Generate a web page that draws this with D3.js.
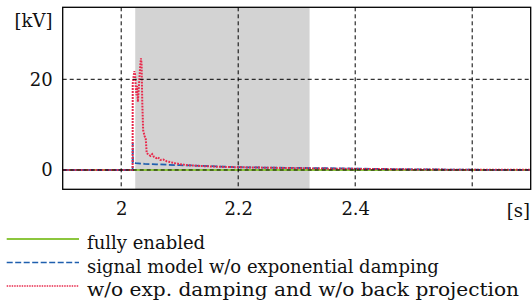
<!DOCTYPE html>
<html>
<head>
<meta charset="utf-8">
<script src="https://cdn.jsdelivr.net/npm/d3@7"></script>
<style>
  body { margin: 0; background: #fff; }
</style>
</head>
<body>
<script>
// data (time in s, voltage in kV)
const greenT = [1.9, 2.7];
const greenV = [0, 0];

const blueT = [1.9, 2.0195, 2.0197, 2.0202, 2.025, 2.04, 2.06, 2.08, 2.1, 2.12, 2.16, 2.2, 2.25, 2.3, 2.38, 2.45, 2.5, 2.6, 2.7];
const blueV = [0, 0, 6.0, 1.6, 1.5, 1.35, 1.25, 1.15, 1.05, 1.0, 0.8, 0.62, 0.52, 0.45, 0.35, 0.22, 0.15, 0.05, 0.02];

const redT = [1.9, 2.0195, 2.0197, 2.021, 2.0225, 2.0238, 2.025, 2.026, 2.0272, 2.0285, 2.0295, 2.031, 2.0325, 2.0338, 2.0348,
  2.036, 2.0375, 2.040, 2.042, 2.0436, 2.047, 2.050, 2.053, 2.056, 2.060, 2.063, 2.067, 2.072, 2.078, 2.085, 2.092,
  2.10, 2.11, 2.12, 2.14, 2.17, 2.2, 2.25, 2.3, 2.35, 2.4, 2.45, 2.5, 2.55, 2.6, 2.7];
const redV = [0, 0, 19, 20.5, 21.8, 21, 18, 16.5, 18.5, 15, 17, 20, 23, 24.6, 23.5,
  15, 8.8, 7.5, 6.8, 3.7, 3.4, 3.1, 3.5, 2.9, 2.6, 2.8, 2.2, 2.3, 1.9, 1.7, 1.5,
  1.3, 1.1, 1.0, 0.85, 0.7, 0.6, 0.5, 0.4, 0.3, 0.25, 0.2, 0.12, 0.08, 0.05, 0.03];

const shade = [2.024, 2.322];
const xTicks = [2, 2.2, 2.4];
const xGrid = [2, 2.2, 2.4, 2.6];
const yTicks = [0, 20];
const legendNames = ["fully enabled", "signal model w/o exponential damping", "w/o exp. damping and w/o back projection"];

const FONT = "DejaVu Serif";

//Margin Convention
const W = 532, H = 306;
const margin = {top: 7.3, right: 1.3, bottom: 116.7, left: 62.7};
const width = W - margin.left - margin.right;
const height = H - margin.top - margin.bottom;

const x = d3.scaleLinear().domain([1.9, 2.7]).range([0, width]);
const y = d3.scaleLinear().domain([-4.26, 35.88]).range([height, 0]);

const svg = d3.select("body").append("svg")
  .attr("width", W)
  .attr("height", H)
  .attr("font-family", FONT);

const g = svg.append("g")
  .attr("transform", "translate(" + margin.left + "," + margin.top + ")");

// shaded window
g.append("rect")
  .attr("x", x(shade[0]))
  .attr("y", 0)
  .attr("width", x(shade[1]) - x(shade[0]))
  .attr("height", height)
  .attr("fill", "#d3d3d3");

const series = [
  {t: greenT, v: greenV, color: "#8cc63e", dash: null, w: 2.2},
  {t: blueT, v: blueV, color: "#1f5fae", dash: "6,2.5", w: 1.8},
  {t: redT, v: redV, color: "#e8294b", dash: "1.8,1.2", w: 2}
];

const line = d3.line()
  .x(d => x(d[0]))
  .y(d => y(d[1]));

series.forEach(function(s) {
  g.append("path")
    .datum(s.t.map((t, i) => [t, s.v[i]]))
    .attr("d", line)
    .attr("fill", "none")
    .attr("stroke", s.color)
    .attr("stroke-width", s.w)
    .attr("stroke-dasharray", s.dash);
});

// grid on top
g.selectAll(".vgrid").data(xGrid).enter().append("line")
  .attr("x1", d => x(d)).attr("x2", d => x(d))
  .attr("y1", 0).attr("y2", height)
  .attr("stroke", "#000").attr("stroke-width", 1)
  .attr("stroke-dasharray", "4,3");

g.selectAll(".hgrid").data(yTicks).enter().append("line")
  .attr("x1", 0).attr("x2", width)
  .attr("y1", d => y(d)).attr("y2", d => y(d))
  .attr("stroke", "#000").attr("stroke-width", 1)
  .attr("stroke-dasharray", "4,3");

// frame
g.append("rect")
  .attr("width", width).attr("height", height)
  .attr("fill", "none").attr("stroke", "#000").attr("stroke-width", 1.3);

// axes
const xAxis = g.append("g")
  .attr("transform", "translate(0," + height + ")")
  .call(d3.axisBottom(x).tickValues(xTicks).tickFormat(d3.format("")).tickSize(0).tickPadding(13));
const yAxis = g.append("g")
  .call(d3.axisLeft(y).tickValues(yTicks).tickFormat(d3.format("")).tickSize(0).tickPadding(10));

[xAxis, yAxis].forEach(function(a) {
  a.select(".domain").remove();
});

svg.append("text")
  .attr("x", 52.5).attr("y", 26.5)
  .attr("text-anchor", "end")
  .text("[kV]");

svg.append("text")
  .attr("x", 530).attr("y", 217.3)
  .attr("text-anchor", "end")
  .text("[s]");

// legend
const legend = svg.append("g").attr("transform", "translate(0,239)");
series.forEach(function(s, i) {
  const row = legend.append("g").attr("transform", "translate(0," + (i * 23.5) + ")");
  row.append("line")
    .attr("x1", 6.7).attr("x2", 79)
    .attr("stroke", s.color)
    .attr("stroke-width", i === 0 ? 2 : 1.6)
    .attr("stroke-dasharray", i === 2 ? "1.5,1" : s.dash);
  const t = row.append("text")
    .attr("x", 87)
    .attr("y", 10)
    .text(legendNames[i]);
  if (i === 2) t.attr("textLength", 432).attr("lengthAdjust", "spacingAndGlyphs");
});

svg.selectAll("text")
  .attr("font-family", FONT)
  .attr("font-size", 18)
  .attr("fill", "#111");
</script>
</body>
</html>
